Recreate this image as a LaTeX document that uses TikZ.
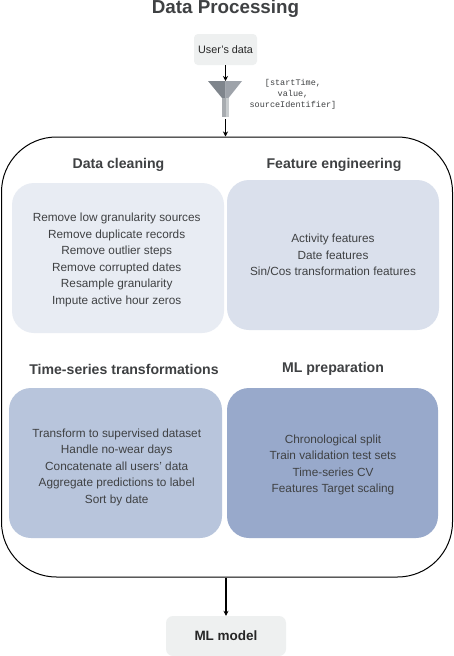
\documentclass[tikz,border=0pt]{standalone}
\usepackage{fontspec}
\setmainfont{Liberation Sans}
\setmonofont{Liberation Mono}
\usetikzlibrary{arrows.meta}

\definecolor{inkGray}{HTML}{3F4143}
\definecolor{cleanBlue}{HTML}{E8ECF3}
\definecolor{featureBlue}{HTML}{DAE0EC}
\definecolor{timeBlue}{HTML}{B8C5DC}
\definecolor{prepBlue}{HTML}{98A9CB}
\definecolor{paleBox}{HTML}{EEF0F0}
\definecolor{coneDark}{HTML}{7F858C}
\definecolor{coneLight}{HTML}{9EA3AA}
\definecolor{neckDark}{HTML}{A8ACB0}
\definecolor{neckLight}{HTML}{C8CCCE}

\tikzset{
  heading/.style={font=\bfseries\fontsize{14.1}{17}\selectfont, text=inkGray},
  panel/.style={rounded corners=22pt, minimum width=#1, minimum height=150pt, inner sep=0pt},
  panelText/.style={align=center, text=inkGray, inner sep=0pt, font=\fontsize{11.8}{16.5}\selectfont},
  palebox/.style={fill=paleBox, rounded corners=4pt, text=black!85, inner sep=0pt},
  flow/.style={-{Stealth[length=5pt,width=5pt]}, line width=1.1pt}
}

\begin{document}
\begin{tikzpicture}[x=1pt,y=-1pt]
  \useasboundingbox (0,0) rectangle (454,656);
  \fill[white] (0,0) rectangle (454,656);

  % Title
  \node[anchor=base, font=\bfseries\fontsize{18.8}{22}\selectfont, text=inkGray] (title) at (225.5,13.8) {Data Processing};

  % Input and funnel
  \node[palebox, minimum width=63pt, minimum height=31pt, font=\fontsize{10.8}{12}\selectfont] (user) at (225.5,49.5) {User's data};
  \coordinate (funnelIn) at (225.5,81);
  \coordinate (funnelOut) at (225.5,119);
  \fill[coneDark] (208,81) -- (225.5,81) -- (225.5,98) -- (222,98) -- cycle;
  \fill[coneLight] (242,81) -- (225.5,81) -- (225.5,98) -- (228.5,98) -- cycle;
  \fill[neckDark] (222,98) rectangle (225.5,117);
  \fill[neckLight] (225.5,98) rectangle (228.5,117);
  \node[font=\ttfamily\fontsize{8.5}{11.2}\selectfont, text=inkGray, align=center, inner sep=0pt] (fields) at (293,94)
    {[startTime,\\value,\\sourceIdentifier]};

  % Outer frame
  \node[draw, line width=1pt, rounded corners=55pt, minimum width=451pt, minimum height=440pt, inner sep=0pt] (frame) at (227,357) {};

  % Panels
  \node[panel=212pt, fill=cleanBlue] (cleaning) at (118,258) {};
  \node[panel=212pt, fill=featureBlue] (features) at (333,255) {};
  \node[panel=213pt, fill=timeBlue] (transforms) at (115.5,463) {};
  \node[panel=211pt, fill=prepBlue] (preparation) at (332.5,463) {};

  % Panel texts
  \node[panelText] (cleaningText) at (116.7,260)
    {Remove low granularity sources\\Remove duplicate records\\Remove outlier steps\\Remove corrupted dates\\Resample granularity\\Impute active hour zeros};
  \node[panelText] (featuresText) at (333,255)
    {Activity features\\Date features\\Sin/Cos transformation features};
  \node[panelText] (transformsText) at (116.7,467)
    {Transform to supervised dataset\\Handle no-wear days\\Concatenate all users' data\\Aggregate predictions to label\\Sort by date};
  \node[panelText] (preparationText) at (333,465)
    {Chronological split\\Train validation test sets\\Time-series CV\\Features Target scaling};

  % Panel headings
  \node[heading] (cleaningTitle) at (118.5,165) {Data cleaning};
  \node[heading] (featuresTitle) at (334,165) {Feature engineering};
  \node[heading] (transformsTitle) at (124,369) {Time-series transformations};
  \node[heading] (preparationTitle) at (333,369) {ML preparation};

  % Output
  \node[palebox, minimum width=120pt, minimum height=40pt, rounded corners=7pt, font=\bfseries\fontsize{13.5}{15}\selectfont] (model) at (226,636) {ML model};

  % Connectors
  \draw[flow] (user) -- (funnelIn);
  \draw[flow] (funnelOut) -- (funnelOut |- frame.north);
  \draw[flow] (model |- frame.south) -- (model);
\end{tikzpicture}
\end{document}
